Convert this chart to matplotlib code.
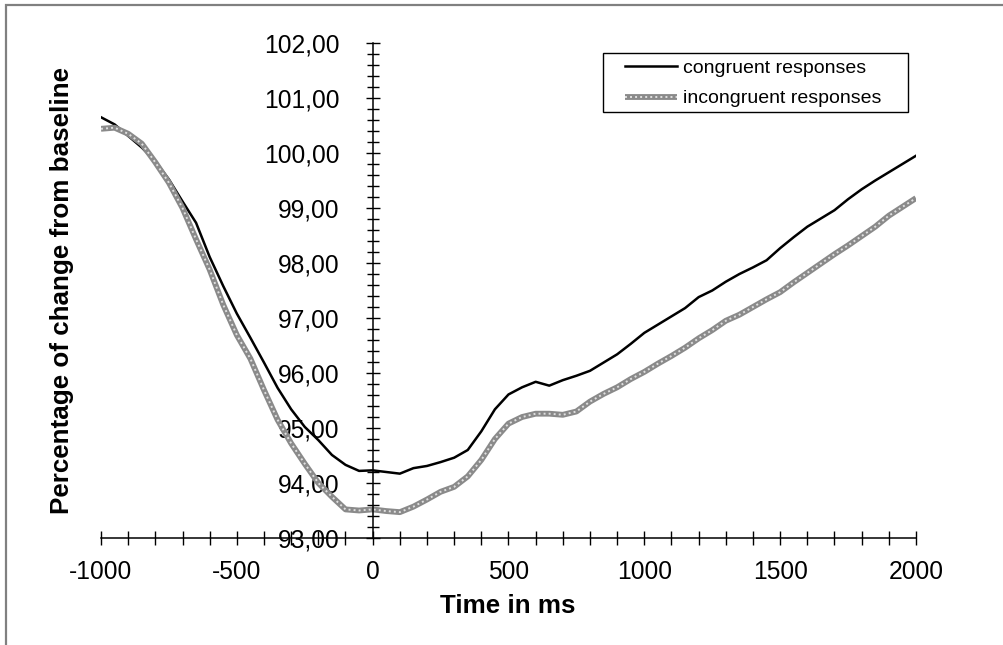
import numpy as np
import matplotlib
matplotlib.use("Agg")
import matplotlib.pyplot as plt
from matplotlib.ticker import MultipleLocator, FuncFormatter
from matplotlib.patches import Rectangle

plt.rcParams['font.family'] = ['Liberation Sans', 'DejaVu Sans']
plt.rcParams['axes.unicode_minus'] = False

# time relative to response onset (ms)
time_ms = np.arange(-1000, 2001, 50)

congruent = [100.65, 100.52, 100.31, 100.10, 99.85, 99.52, 99.12, 98.73, 98.11, 97.58,
             97.08, 96.64, 96.19, 95.73, 95.34, 95.02, 94.78, 94.51, 94.33, 94.22,
             94.23, 94.20, 94.17, 94.27, 94.31, 94.38, 94.46, 94.60, 94.94, 95.34,
             95.61, 95.74, 95.84, 95.77, 95.87, 95.95, 96.04, 96.19, 96.34, 96.53,
             96.73, 96.88, 97.03, 97.18, 97.38, 97.50, 97.66, 97.80, 97.92, 98.05,
             98.27, 98.47, 98.66, 98.81, 98.96, 99.16, 99.34, 99.50, 99.65, 99.80,
             99.95]

incongruent = [100.44, 100.46, 100.35, 100.17, 99.83, 99.46, 99.00, 98.43, 97.88, 97.24,
               96.69, 96.26, 95.69, 95.15, 94.72, 94.35, 94.00, 93.75, 93.52, 93.50,
               93.52, 93.49, 93.47, 93.57, 93.70, 93.84, 93.93, 94.12, 94.42, 94.80,
               95.08, 95.20, 95.26, 95.26, 95.24, 95.30, 95.48, 95.62, 95.74, 95.89,
               96.02, 96.17, 96.31, 96.46, 96.63, 96.78, 96.95, 97.06, 97.20, 97.34,
               97.47, 97.65, 97.82, 97.99, 98.16, 98.32, 98.49, 98.66, 98.86, 99.02,
               99.18]

labels = ["congruent responses", "incongruent responses"]

W, H = 1004, 645
fig = plt.figure(figsize=(W / 100, H / 100), dpi=100)
ax = fig.add_axes([101 / W, 1 - 538 / H, 815 / W, 495 / H])

# outer chart frame
fig.patches.append(Rectangle((6 / W, -0.1), 1.2, 1.1 - 5 / H, transform=fig.transFigure,
                             fill=False, edgecolor='#808080', linewidth=1.6))

l1, = ax.plot(time_ms, congruent, color='black', linewidth=1.8)
g1, = ax.plot(time_ms, incongruent, color='#8a8a8a', linewidth=4.2, solid_capstyle='butt')
g2, = ax.plot(time_ms, incongruent, color='#e0e0e0', linewidth=1.4, linestyle=(0, (1, 1.6)))

ax.set_xlim(-1000, 2000)
ax.set_ylim(93, 102)

for s in ['top', 'right']:
    ax.spines[s].set_visible(False)
ax.spines['left'].set_position(('data', 0))
ax.spines['left'].set_linewidth(1.1)
ax.spines['bottom'].set_linewidth(1.1)

ax.xaxis.set_major_locator(MultipleLocator(500))
ax.xaxis.set_minor_locator(MultipleLocator(100))
ax.yaxis.set_major_locator(MultipleLocator(1))
ax.yaxis.set_minor_locator(MultipleLocator(0.2))
ax.yaxis.set_major_formatter(FuncFormatter(lambda v, p: f"{v:.2f}".replace('.', ',')))

ax.tick_params(axis='x', which='both', direction='inout', length=9.5, width=1.0,
               labelsize=17.7, pad=11)
ax.tick_params(axis='y', which='major', direction='inout', length=10, width=1.0,
               labelsize=17.7, pad=19)
ax.tick_params(axis='y', which='minor', direction='inout', length=8, width=1.0)

fig.text(508 / W, 1 - 606 / H, "Time in ms", ha='center', va='center',
         fontsize=18.7, fontweight='bold')
fig.text(62 / W, 1 - 291 / H, "Percentage of change from baseline", ha='center',
         va='center', rotation=90, fontsize=18.7, fontweight='bold')

# legend box drawn separately so it can be wider than the entries
ax.add_patch(Rectangle((603 / W, 1 - 112 / H), 305 / W, 59 / H, transform=fig.transFigure,
                       fill=True, facecolor='white', edgecolor='black', linewidth=1.0,
                       zorder=5, clip_on=False))
leg = ax.legend([l1, (g1, g2)], labels, loc='upper left',
                bbox_to_anchor=(625 / W, 1 - 59 / H), bbox_transform=fig.transFigure,
                borderaxespad=0, borderpad=0, fontsize=14, frameon=False,
                handlelength=2.7, handletextpad=0.3, labelspacing=0.68)
leg.set_zorder(6)

fig.savefig("out.png", dpi=100)
